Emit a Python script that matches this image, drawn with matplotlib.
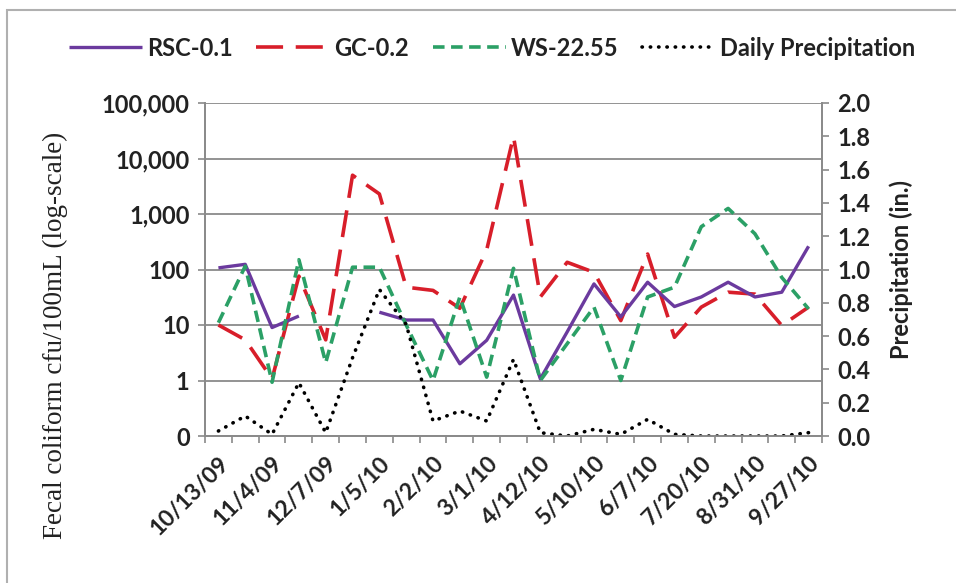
import numpy as np
import matplotlib
matplotlib.use('Agg')
import matplotlib.pyplot as plt
from matplotlib.patches import Rectangle

# sampling dates (only every other one is labelled on the axis)
date_labels = ['10/13/09', '11/4/09', '12/7/09', '1/5/10', '2/2/10', '3/1/10',
               '4/12/10', '5/10/10', '6/7/10', '7/20/10', '8/31/10', '9/27/10']

# fecal coliform, cfu/100mL (nan = no sample)
rsc = [107, 124, 9, 14.5, np.nan, np.nan, 17, 12.3, 12.3, 2, 5.3, 34.6,
       1.07, 7.5, 55, 14, 59, 21.5, 32, 59, 32, 39, 262]
gc = [10, 5.4, 1.07, 76, 5.4, 5000, 2300, 48, 42, 20, 225, 25000,
      32, 135, 89, 12, 190, 6, 21, 39, 36, 9.8, 21]
ws = [11, 115, 0.93, 150, 2.1, 110, 110, 10, 1, 32, 1.15, 105,
      1, 4.6, 21, 1, 32, 48, 590, 1260, 440, 72, 19.5]

# daily precipitation (in.)
precip = [0.03, 0.12, 0.01, 0.32, 0.02, 0.47, 0.88, 0.67, 0.09, 0.15, 0.09, 0.46,
          0.02, 0.0, 0.04, 0.01, 0.10, 0.01, 0.0, 0.0, 0.0, 0.0, 0.02]

y_ticks = [0.1, 1, 10, 100, 1000, 10000, 100000]
y_tick_labels = ['0', '1', '10', '100', '1,000', '10,000', '100,000']

n = len(rsc)
x = np.arange(n)

sans = 'Lato'
grey = '#8a8a8a'
txt = '#222222'

fig = plt.figure(figsize=(9.56, 5.83), dpi=100)
ax = fig.add_axes([205/956, 1 - 436/583, 617/956, 333/583])
ax2 = ax.twinx()

# fecal coliform lines on log axis
l1, = ax.plot(x, rsc, color='#6B3A9E', lw=2.4, solid_capstyle='butt', label='RSC-0.1', zorder=4)
l2, = ax.plot(x, gc, color='#D81E2A', lw=2.6, dashes=(7.5, 3.5), label='GC-0.2', zorder=3)
l3, = ax.plot(x, ws, color='#2BA066', lw=2.6, dashes=(3.2, 1.8), label='WS-22.55', zorder=5)

ax.set_yscale('log')
ax.set_ylim(0.1, 100000)
ax.set_yticks(y_ticks)
ax.set_yticklabels(y_tick_labels)
ax.minorticks_off()
ax.yaxis.grid(True, color=grey, lw=1.3)
ax.set_axisbelow(True)

# category axis: ticks between categories, labels on every other one
ax.set_xlim(-0.5, n - 0.5)
ax.set_xticks(np.arange(n + 1) - 0.5)
ax.set_xticklabels([])
ax.set_xticks(x[::2], minor=True)
ax.set_xticklabels(date_labels, minor=True, rotation=45, ha='right',
                   rotation_mode='anchor', fontsize=16.5, fontweight='bold',
                   family=sans, color=txt)
ax.tick_params(axis='x', which='major', length=5, color=grey, width=1.2)
ax.tick_params(axis='x', which='minor', length=0, pad=12)
ax.tick_params(axis='y', length=5, color=grey, width=1.2, pad=6)
for lab in ax.get_yticklabels():
    lab.set_fontsize(17)
    lab.set_fontweight('bold')
    lab.set_family(sans)
    lab.set_color(txt)

# precipitation on the right axis
l4, = ax2.plot(x, precip, color='black', lw=2.6, dashes=(0.1, 2.2),
               dash_capstyle='round', label='Daily Precipitation', zorder=2)
ax2.set_ylim(0, 2.0)
ax2.set_yticks(np.arange(0, 2.01, 0.2))
ax2.set_yticklabels(['%.1f' % v for v in np.arange(0, 2.01, 0.2)],
                    fontsize=17, fontweight='bold', family=sans, color=txt)
ax2.tick_params(axis='y', length=5, color=grey, width=1.2, pad=6)
ax2.set_ylabel('Precipitation (in.)', fontsize=17, fontweight='bold',
               family=sans, color=txt, labelpad=14)

for a in (ax, ax2):
    a.spines['top'].set_visible(False)
    for s in ('left', 'right', 'bottom'):
        a.spines[s].set_color(grey)
        a.spines[s].set_linewidth(1.3)

# left axis title (serif, as in the original)
fig.text(55/956, 1 - 335/583, 'Fecal coliform cfu/100mL (log-scale)',
         rotation=90, ha='center', va='center', fontsize=19.5,
         family='Liberation Serif', color=txt)

# legend across the top
leg = fig.legend(handles=[l1, l2, l3, l4], loc='center', ncol=4,
                 bbox_to_anchor=(492/956, 1 - 48/583), frameon=False,
                 prop={'family': sans, 'weight': 'bold', 'size': 17},
                 handlelength=3.1, handletextpad=0.2, columnspacing=1.0)
for t in leg.get_texts():
    t.set_color(txt)

# outer chart border (left and top edges visible)
fig.patches.append(Rectangle((7/956, -0.1), 1.2, 1.1 - 10/583, transform=fig.transFigure,
                             fill=False, edgecolor='#b0b0b0', lw=1.5))

plt.savefig('out.png', dpi=100)
